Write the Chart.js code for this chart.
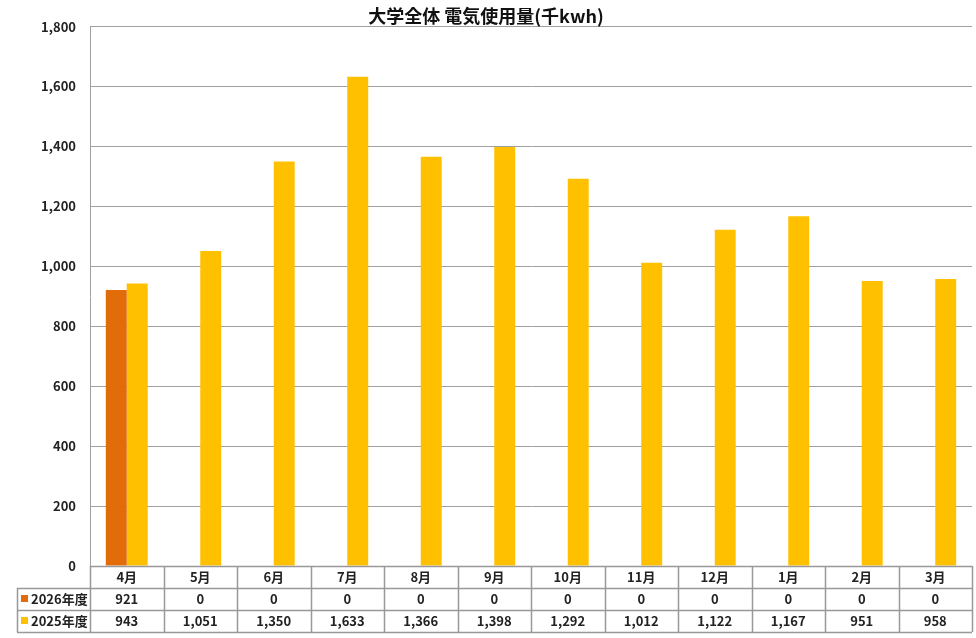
<!DOCTYPE html>
<html>
<head>
<meta charset="utf-8">
<script src="https://cdn.jsdelivr.net/npm/chart.js@4/dist/chart.umd.min.js"></script>
<style>
  body { margin: 0; background: #fff; }
  #wrap { width: 976px; height: 638px; }
</style>
</head>
<body>
<div id="wrap"><canvas id="barChart"></canvas></div>
<script>
const months = ['4月', '5月', '6月', '7月', '8月', '9月', '10月', '11月', '12月', '1月', '2月', '3月'];
const series_names = ['2026年度', '2025年度'];
const values_2026 = [921, 0, 0, 0, 0, 0, 0, 0, 0, 0, 0, 0];
const values_2025 = [943, 1051, 1350, 1633, 1366, 1398, 1292, 1012, 1122, 1167, 951, 958];
const colors = ['#E36C0A', '#FFC000'];

const FONT = '"Noto Sans CJK JP", "Noto Sans", sans-serif';

// draw the data table under the plot
const tablePlugin = {
  id: 'dataTable',
  afterDraw(chart) {
    const ctx = chart.ctx;
    const x = chart.scales.x;
    const area = chart.chartArea;
    const rowH = 22;
    const labelLeft = 17;
    const half = (area.right - area.left) / months.length / 2;
    const top = area.bottom;
    const rows = [values_2026, values_2025];
    ctx.save();
    ctx.strokeStyle = '#999';
    ctx.lineWidth = 1.5;
    ctx.beginPath();
    ctx.moveTo(area.left, top + 0.5); ctx.lineTo(area.right, top + 0.5);
    for (let r = 1; r <= 3; r++) {
      ctx.moveTo(labelLeft, top + rowH * r + 0.5); ctx.lineTo(area.right, top + rowH * r + 0.5);
    }
    ctx.moveTo(labelLeft + 0.5, top + rowH); ctx.lineTo(labelLeft + 0.5, top + rowH * 3);
    for (let i = 0; i <= months.length; i++) {
      const px = Math.round(area.left + half * 2 * i) + 0.5;
      ctx.moveTo(px, top); ctx.lineTo(px, top + rowH * 3);
    }
    ctx.stroke();

    ctx.fillStyle = '#222';
    ctx.textAlign = 'center';
    ctx.textBaseline = 'middle';
    ctx.font = 'bold 13px ' + FONT;
    months.forEach((m, i) => {
      const cx = x.getPixelForValue(i);
      ctx.fillText(m, cx, top + rowH / 2);
      rows.forEach((vals, r) => {
        ctx.fillText(vals[i].toLocaleString('en-US'), cx, top + rowH * (r + 1.5));
      });
    });
    ctx.textAlign = 'left';
    series_names.forEach((n, r) => {
      const cy = top + rowH * (r + 1.5);
      ctx.fillStyle = colors[r];
      ctx.fillRect(labelLeft + 4, cy - 4, 7, 7);
      ctx.fillStyle = '#222';
      ctx.fillText(n, labelLeft + 14, cy);
    });
    ctx.restore();
  }
};

new Chart(document.getElementById('barChart'), {
  type: 'bar',
  data: {
    labels: months,
    datasets: [
      { label: series_names[0], data: values_2026, backgroundColor: colors[0] },
      { label: series_names[1], data: values_2025, backgroundColor: colors[1] }
    ]
  },
  options: {
    responsive: true,
    maintainAspectRatio: false,
    animation: false,
    categoryPercentage: 0.57,
    barPercentage: 1.0,
    layout: { padding: { left: 0, right: 4, top: 0, bottom: 72 } },
    plugins: {
      legend: { display: false },
      tooltip: { enabled: false },
      title: {
        display: true,
        text: '大学全体 電気使用量(千kwh)',
        color: '#111',
        font: { family: FONT, size: 18, weight: 'bold' },
        padding: { top: 5, bottom: 0 }
      }
    },
    scales: {
      x: { display: false },
      y: {
        min: 0,
        max: 1800,
        ticks: {
          stepSize: 200,
          color: '#222',
          padding: 14,
          font: { family: FONT, size: 13, weight: 'bold' },
          callback: v => v.toLocaleString('en-US')
        },
        grid: { color: '#a0a0a0', drawTicks: false },
        border: { color: '#a0a0a0' },
        afterFit(scale) { scale.width = 90; }
      }
    }
  },
  plugins: [tablePlugin]
});
</script>
</body>
</html>
